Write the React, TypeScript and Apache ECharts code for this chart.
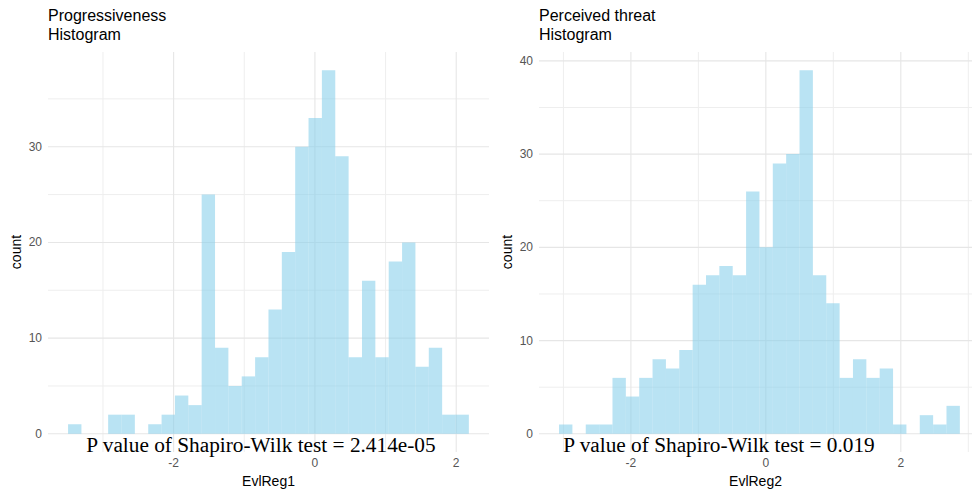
import React, { useEffect, useRef } from "react";
import * as echarts from "echarts";

// ---- Data ----
const leftTitle = "Progressiveness\nHistogram";
const rightTitle = "Perceived threat\nHistogram";
const leftXName = "EvlReg1";
const rightXName = "EvlReg2";
const yName = "count";

// Histogram bins: first bin start and bin width, 30 bins each
const leftBinStart = -3.494;
const leftBinWidth = 0.1891;
const leftCounts = [1, 0, 0, 2, 2, 0, 1, 2, 4, 3, 25, 9, 5, 6, 8, 13, 19, 30, 33, 38, 29, 8, 16, 8, 18, 20, 7, 9, 2, 2];

const rightBinStart = -3.065;
const rightBinWidth = 0.198;
const rightCounts = [1, 0, 1, 1, 6, 4, 6, 8, 7, 9, 16, 17, 18, 17, 26, 20, 29, 30, 39, 17, 14, 6, 8, 6, 7, 1, 0, 2, 1, 3];

const leftXTicks = [-2, 0, 2];
const leftXMinor = [-3, -1, 1];
const leftYTicks = [0, 10, 20, 30];
const leftYMinor = [5, 15, 25, 35];

const rightXTicks = [-2, 0, 2];
const rightXMinor = [-3, -1, 1, 3];
const rightYTicks = [0, 10, 20, 30, 40];
const rightYMinor = [5, 15, 25, 35];

const leftPText = "P value of Shapiro-Wilk test = 2.414e-05";
const rightPText = "P value of Shapiro-Wilk test = 0.019";

const SANS = "'Liberation Sans', Arial, Helvetica, sans-serif";
const SERIF = "'Liberation Serif', 'Times New Roman', serif";

function binsData(start: number, width: number, counts: number[]) {
  return counts.map((c, i) => [start + i * width, start + (i + 1) * width, c]);
}

function gridSeries(idx: number, vals: number[], vertical: boolean, major: boolean) {
  return {
    type: "custom",
    xAxisIndex: idx,
    yAxisIndex: idx,
    silent: true,
    z: 1,
    clip: false,
    data: vals.map((v) => (vertical ? [v, 0] : [0, v])),
    renderItem: (params: any, api: any) => {
      const cs = params.coordSys;
      const p = api.coord([api.value(0), api.value(1)]);
      const shape = vertical
        ? { x1: p[0], y1: cs.y, x2: p[0], y2: cs.y + cs.height }
        : { x1: cs.x, y1: p[1], x2: cs.x + cs.width, y2: p[1] };
      return {
        type: "line",
        shape,
        style: { stroke: major ? "#e6e6e6" : "#eeeeee", lineWidth: major ? 1.1 : 1 },
      };
    },
  };
}

function barSeries(idx: number, data: number[][]) {
  return {
    type: "custom",
    xAxisIndex: idx,
    yAxisIndex: idx,
    z: 2,
    data,
    encode: { x: [0, 1], y: 2 },
    renderItem: (params: any, api: any) => {
      const p0 = api.coord([api.value(0), 0]);
      const p1 = api.coord([api.value(1), api.value(2)]);
      return {
        type: "rect",
        shape: { x: p0[0], y: p1[1], width: p1[0] - p0[0], height: p0[1] - p1[1] },
        style: { fill: "rgba(135,206,235,0.58)" },
      };
    },
  };
}

export default function App() {
  const ref = useRef<HTMLDivElement>(null);
  useEffect(() => {
    document.body.style.margin = "0";
    if (!ref.current) return;
    const chart = echarts.init(ref.current, undefined, { renderer: "svg" });

    const axisLabel = (vals: number[], margin: number) => ({
      show: true,
      customValues: vals,
      color: "#555555",
      fontSize: 12,
      fontFamily: SANS,
      margin,
    });

    const xAxis = (min: number, max: number, idx: number, name: string, ticks: number[]) => ({
      type: "value",
      gridIndex: idx,
      min,
      max,
      name,
      nameLocation: "middle",
      nameGap: 22,
      nameTextStyle: { color: "#000", fontSize: 14, fontFamily: SANS },
      axisLine: { show: false },
      axisTick: { show: false, customValues: ticks },
      splitLine: { show: false },
      axisLabel: axisLabel(ticks, 5),
    });
    const yAxis = (min: number, max: number, idx: number, ticks: number[]) => ({
      type: "value",
      gridIndex: idx,
      min,
      max,
      name: yName,
      nameLocation: "middle",
      nameGap: 25,
      nameTextStyle: { color: "#000", fontSize: 14, fontFamily: SANS },
      axisLine: { show: false },
      axisTick: { show: false, customValues: ticks },
      splitLine: { show: false },
      axisLabel: axisLabel(ticks, 6),
    });

    chart.setOption({
      animation: false,
      title: [
        {
          text: leftTitle,
          left: 48,
          top: 6,
          padding: 0,
          textStyle: { fontSize: 16, fontWeight: "normal", color: "#000", fontFamily: SANS, lineHeight: 19 },
        },
        {
          text: rightTitle,
          left: 539,
          top: 6,
          padding: 0,
          textStyle: { fontSize: 16, fontWeight: "normal", color: "#000", fontFamily: SANS, lineHeight: 19 },
        },
      ],
      grid: [
        { left: 48, top: 52, width: 441, height: 400, outerBoundsMode: "none", containLabel: false },
        { left: 539, top: 52, width: 433, height: 400, outerBoundsMode: "none", containLabel: false },
      ],
      xAxis: [
        xAxis(-3.778, 2.464, 0, leftXName, leftXTicks),
        xAxis(-3.362, 3.055, 1, rightXName, rightXTicks),
      ],
      yAxis: [yAxis(-1.9, 39.9, 0, leftYTicks), yAxis(-1.95, 40.95, 1, rightYTicks)],
      series: [
        gridSeries(0, leftYMinor, false, false),
        gridSeries(0, leftXMinor, true, false),
        gridSeries(0, leftYTicks, false, true),
        gridSeries(0, leftXTicks, true, true),
        gridSeries(1, rightYMinor, false, false),
        gridSeries(1, rightXMinor, true, false),
        gridSeries(1, rightYTicks, false, true),
        gridSeries(1, rightXTicks, true, true),
        barSeries(0, binsData(leftBinStart, leftBinWidth, leftCounts)),
        barSeries(1, binsData(rightBinStart, rightBinWidth, rightCounts)),
      ],
      graphic: [
        {
          type: "text",
          x: 261,
          y: 445,
          z: 10,
          style: {
            text: leftPText,
            fill: "#000",
            font: `21.3px ${SERIF}`,
            textAlign: "center",
            textVerticalAlign: "middle",
          },
        },
        {
          type: "text",
          x: 719,
          y: 445,
          z: 10,
          style: {
            text: rightPText,
            fill: "#000",
            font: `21.3px ${SERIF}`,
            textAlign: "center",
            textVerticalAlign: "middle",
          },
        },
      ],
    });
    return () => chart.dispose();
  }, []);
  return <div ref={ref} style={{ width: 972, height: 491 }} />;
}
